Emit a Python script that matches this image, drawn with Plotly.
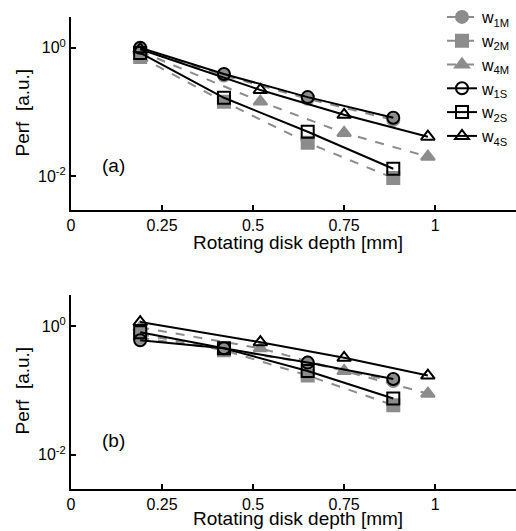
import plotly.graph_objects as go

# depths at which each weighting was evaluated [mm]
depth_w12 = [0.19, 0.42, 0.65, 0.885]
depth_w4 = [0.19, 0.52, 0.75, 0.98]

# panel (a)
a_w1M = [0.95, 0.37, 0.16, 0.075]
a_w2M = [0.72, 0.144, 0.033, 0.0093]
a_w4M = [0.88, 0.145, 0.047, 0.020]
a_w1S = [1.0, 0.39, 0.17, 0.081]
a_w2S = [0.83, 0.166, 0.049, 0.013]
a_w4S = [0.95, 0.22, 0.09, 0.041]

# panel (b)
b_w1M = [0.65, 0.43, 0.27, 0.14]
b_w2M = [0.75, 0.42, 0.17, 0.059]
b_w4M = [0.95, 0.45, 0.20, 0.089]
b_w1S = [0.60, 0.45, 0.27, 0.15]
b_w2S = [0.80, 0.45, 0.20, 0.075]
b_w4S = [1.15, 0.56, 0.32, 0.17]

names = ["w<sub>1M</sub>", "w<sub>2M</sub>", "w<sub>4M</sub>",
         "w<sub>1S</sub>", "w<sub>2S</sub>", "w<sub>4S</sub>"]
x_ticks = [0, 0.25, 0.5, 0.75, 1]
x_ticktext = ["0", "0.25", "0.5", "0.75", "1"]
y_ticks = [1, 0.01]
y_ticktext = ["10<sup>0</sup>", "10<sup>-2</sup>"]
x_title = "Rotating disk depth [mm]"
y_title = "Perf\u00a0\u00a0[a.u.]"

GREY = "#8c8c8c"
symbols = ["circle", "square", "triangle-up",
           "circle-open", "square-open", "triangle-up-open"]

fig = go.Figure()

panels = [
    ([a_w1M, a_w2M, a_w4M, a_w1S, a_w2S, a_w4S], "x", "y", True),
    ([b_w1M, b_w2M, b_w4M, b_w1S, b_w2S, b_w4S], "x2", "y2", False),
]
for series, xa, ya, show in panels:
    for i, vals in enumerate(series):
        xs = depth_w4 if i in (2, 5) else depth_w12
        model = i < 3
        fig.add_trace(go.Scatter(
            x=xs, y=vals, name=names[i], xaxis=xa, yaxis=ya,
            mode="lines+markers", showlegend=show,
            line=dict(color=GREY if model else "black", width=2,
                      dash="dash" if model else "solid"),
            marker=dict(symbol=symbols[i], size=12,
                        color=GREY if model else "black",
                        line=dict(width=2, color=GREY if model else "black")),
        ))

W, H = 516, 531
def px_x(p):
    return p / W
def px_y(p):
    return 1 - p / H

FAMILY = "Liberation Sans, Arial, sans-serif"
axis_font = dict(family=FAMILY, size=16, color="black")
title_font = dict(family=FAMILY, size=19, color="black")

xcommon = dict(range=[0, 1.222], tickvals=x_ticks, ticktext=x_ticktext,
               showline=True, linecolor="black", linewidth=2, ticks="inside",
               ticklen=5, tickwidth=2, tickcolor="black", showgrid=False,
               zeroline=False, tickfont=axis_font, automargin=False)
ycommon = dict(type="log", range=[-2.53, 0.48], tickvals=y_ticks, ticktext=y_ticktext,
               showline=True, linecolor="black", linewidth=2, ticks="inside",
               ticklen=5, tickwidth=2, tickcolor="black", showgrid=False,
               zeroline=False, tickfont=axis_font, automargin=False)

annotations = [
    dict(text="(a)", x=0.117, y=-1.83, xref="x", yref="y", showarrow=False, font=title_font),
    dict(text="(b)", x=0.117, y=-1.78, xref="x2", yref="y2", showarrow=False, font=title_font),
]
# axis titles for both panels
for xt_bottom, yt_mid in [(255, 112.5), (531, 390.5)]:
    annotations.append(dict(text=x_title, xref="paper", yref="paper",
                            x=px_x(298), y=px_y(xt_bottom), xanchor="center",
                            yanchor="bottom", showarrow=False, font=title_font))
    annotations.append(dict(text=y_title, xref="paper", yref="paper",
                            x=px_x(22), y=px_y(yt_mid), xanchor="center",
                            yanchor="middle", textangle=-90, showarrow=False,
                            font=title_font))

fig.update_layout(
    width=W, height=H, margin=dict(l=0, r=0, t=0, b=0, autoexpand=False),
    paper_bgcolor="white", plot_bgcolor="white",
    font=axis_font,
    xaxis=dict(domain=[px_x(71), 1], anchor="y", **xcommon),
    yaxis=dict(domain=[px_y(210), px_y(17)], anchor="x", **ycommon),
    xaxis2=dict(domain=[px_x(71), 1], anchor="y2", **xcommon),
    yaxis2=dict(domain=[px_y(489), px_y(295)], anchor="x2", **ycommon),
    legend=dict(x=1.0, xanchor="right", y=1.0, yanchor="top",
                bgcolor="rgba(0,0,0,0)", font=dict(family=FAMILY, size=16),
                itemwidth=30, tracegroupgap=0),
    annotations=annotations,
)

fig.write_html("out.html")
